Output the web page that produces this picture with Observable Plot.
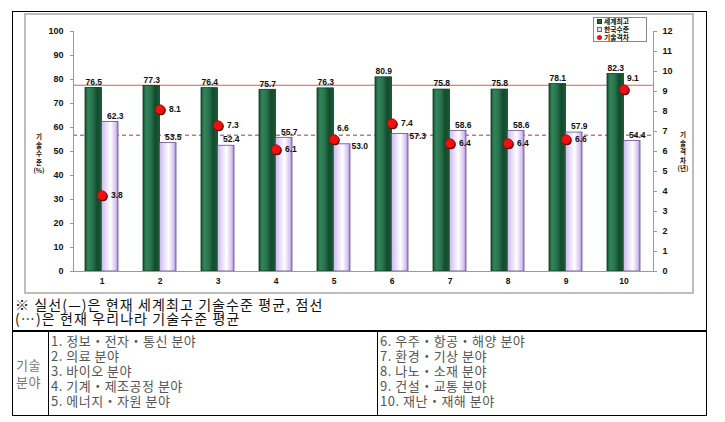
<!DOCTYPE html>
<html>
<head>
<meta charset="utf-8">
<script src="https://cdn.jsdelivr.net/npm/d3@7"></script>
<script src="https://cdn.jsdelivr.net/npm/@observablehq/plot@0.6"></script>
<style>
  body { margin: 0; background: #fff; }
  #page { position: relative; width: 725px; height: 422px; background: #fff; overflow: hidden;
          font-family: "Noto Sans CJK KR", "Noto Sans", sans-serif; }
  .abs { position: absolute; }
  #outer { left: 12px; top: 11px; width: 695px; height: 405px; border: 1px solid #000; box-sizing: border-box; }
  #chartbox { left: 24px; top: 13px; width: 670px; height: 281px; border: 2px solid #bdbdbd; box-sizing: border-box; }
  #chart { left: 25px; top: 14px; }
  .vlabel { width: 22px; color: #111; font-family: "Noto Sans CJK KR", sans-serif; font-weight: bold; }
  .vlabel div { height: 8.6px; font-size: 6.5px; line-height: 8.6px; text-align: center; }
  #legend { left: 593px; top: 17px; width: 54px; height: 25px; border: 1px solid #888; background: #fff;
            box-sizing: border-box; font-size: 6.8px; font-weight: bold; padding: 0 0 0 3px; color: #111; }
  #legend .row { display: flex; align-items: center; height: 7.8px; line-height: 7.8px; }
  #legend .sw { display: inline-block; margin-right: 2px; }
  #caption { left: 15px; top: 297px; color: #111; }
  #caption div { font-size: 14px; height: 14px; line-height: 14px; letter-spacing: 1.1px; white-space: nowrap; }
  #table { left: 12px; top: 330px; width: 695px; height: 86px; border: 1px solid #000; border-top: 2px solid #000;
           box-sizing: border-box; }
  .cell { position: absolute; font-size: 13px; line-height: 15px; letter-spacing: 0.5px; color: #555; white-space: nowrap; }
</style>
</head>
<body>
<div id="page">
  <div id="outer" class="abs"></div>
  <div id="chartbox" class="abs"></div>
  <div id="chart" class="abs"></div>
  <div id="vl-left" class="abs vlabel" style="left:28px; top:132px;"></div>
  <div id="vl-right" class="abs vlabel" style="left:672px; top:130px;"></div>
  <div id="legend" class="abs"></div>
  <div id="caption" class="abs"></div>
  <div id="table" class="abs"></div>
</div>
<script>
// ---- data ----
const categories = ["1", "2", "3", "4", "5", "6", "7", "8", "9", "10"];
const worldBest  = [76.5, 77.3, 76.4, 75.7, 76.3, 80.9, 75.8, 75.8, 78.1, 82.3];
const koreaLevel = [62.3, 53.5, 52.4, 55.7, 53.0, 57.3, 58.6, 58.6, 57.9, 54.4];
const techGap    = [3.8, 8.1, 7.3, 6.1, 6.6, 7.4, 6.4, 6.4, 6.6, 9.1];
const worldAvg = 77.6;
const koreaAvg = 56.8;
const leftTicks  = [0, 10, 20, 30, 40, 50, 60, 70, 80, 90, 100];
const rightTicks = [0, 1, 2, 3, 4, 5, 6, 7, 8, 9, 10, 11, 12];
const seriesNames = ["세계최고", "한국수준", "기술격차"];
const leftAxisTitle  = ["기", "술", "수", "준", "(%)"];
const rightAxisTitle = ["기", "술", "격", "차", "(년)"];
const captionLines = ["※ 실선(—)은 현재 세계최고 기술수준 평균, 점선", "(…)은 현재 우리나라 기술수준 평균"];
const fieldHeader = ["기술", "분야"];
const fieldsLeft  = ["1. 정보・전자・통신 분야", "2. 의료 분야", "3. 바이오 분야", "4. 기계・제조공정 분야", "5. 에너지・자원 분야"];
const fieldsRight = ["6. 우주・항공・해양 분야", "7. 환경・기상 분야", "8. 나노・소재 분야", "9. 건설・교통 분야", "10. 재난・재해 분야"];

// label placement (style only): which labels sit beside / above
const koreaLabelBeside = new Set(["5", "6"]);
const gapLabelAbove = new Set(["5", "10"]);

const leftMax = 100, rightMax = 12;
const toLeft = v => v * leftMax / rightMax;

const rows = categories.map((c, i) => ({cat: c, world: worldBest[i], korea: koreaLevel[i], gap: techGap[i], gapY: toLeft(techGap[i])}));

const W = 668, H = 279;
const mL = 48, mR = 40;
const step = (W - mL - mR) / categories.length;
const padInner = 0.43;
const half = step * (1 - padInner) / 2;

const numFont = "Liberation Sans, Arial, sans-serif";
const lbl = {fontSize: 8.5, fontWeight: "bold", fill: "#111"};

const chart = Plot.plot({
  width: W, height: H,
  marginLeft: mL, marginRight: mR, marginTop: 17, marginBottom: 22,
  style: {background: "transparent", fontFamily: numFont, color: "#111"},
  x: {domain: categories, type: "band", paddingInner: padInner, paddingOuter: padInner / 2, label: null},
  y: {domain: [0, leftMax], label: null},
  marks: [
    Plot.ruleY([worldAvg], {stroke: "#e05a5a", strokeWidth: 1.2}),
    Plot.ruleY([koreaAvg], {stroke: "#b83030", strokeWidth: 1, strokeDasharray: "4,3"}),
    Plot.barY(rows, {x: "cat", y: "world", insetRight: half, fill: "url(#gGreen)", stroke: "#0d3a20", strokeWidth: 0.8}),
    Plot.barY(rows, {x: "cat", y: "korea", insetLeft: half, fill: "url(#gPurple)", stroke: "#6a4a90", strokeWidth: 0.8}),
    Plot.frame({anchor: "left", stroke: "#9a9a9a"}),
    Plot.frame({anchor: "right", stroke: "#9a9a9a"}),
    Plot.ruleY([0], {stroke: "#9a9a9a"}),
    Plot.axisY({anchor: "left", ticks: leftTicks, tickSize: 3, tickPadding: 7, fontSize: 9, fontWeight: "bold", stroke: "#999"}),
    Plot.axisY({anchor: "right", ticks: rightTicks.map(toLeft), tickFormat: d => String(Math.round(d * rightMax / leftMax)),
                tickSize: 3, tickPadding: 6, fontSize: 9, fontWeight: "bold", stroke: "#999"}),
    Plot.axisX({tickSize: 0, tickPadding: 6, fontSize: 8.5, fontWeight: "bold"}),
    Plot.text(rows, {x: "cat", y: "world", text: d => d.world.toFixed(1), dx: -half / 2, dy: -6, ...lbl}),
    Plot.text(rows.filter(d => !koreaLabelBeside.has(d.cat)),
              {x: "cat", y: "korea", text: d => d.korea.toFixed(1), dx: half / 2 + 5, dy: -6, ...lbl}),
    Plot.text(rows.filter(d => koreaLabelBeside.has(d.cat)),
              {x: "cat", y: "korea", text: d => d.korea.toFixed(1), dx: half + 1, dy: 2, textAnchor: "start", ...lbl}),
    Plot.dot(rows, {x: "cat", y: "gapY", r: 4.8, fill: "#400", dx: 1, dy: 1}),
    Plot.dot(rows, {x: "cat", y: "gapY", r: 4.8, fill: "#f01010", stroke: "#a00000", strokeWidth: 0.6}),
    Plot.text(rows.filter(d => !gapLabelAbove.has(d.cat)),
              {x: "cat", y: "gapY", text: d => d.gap.toFixed(1), dx: 9, textAnchor: "start", ...lbl}),
    Plot.text(rows.filter(d => gapLabelAbove.has(d.cat)),
              {x: "cat", y: "gapY", text: d => d.gap.toFixed(1), dx: 3, dy: -11, textAnchor: "start", ...lbl})
  ]
});

// gradients for the cylinder-like bars
const svg = d3.select(chart);
const defs = svg.insert("defs", ":first-child");
function grad(id, stops) {
  const g = defs.append("linearGradient").attr("id", id).attr("x1", 0).attr("x2", 1).attr("y1", 0).attr("y2", 0);
  stops.forEach(([o, c]) => g.append("stop").attr("offset", o).attr("stop-color", c));
}
grad("gGreen", [[0, "#174d30"], [0.18, "#32855a"], [0.45, "#2a7550"], [0.75, "#124a2c"], [1, "#1c5a3a"]]);
grad("gPurple", [[0, "#cdb8ec"], [0.3, "#ebe0fb"], [0.55, "#ffffff"], [0.85, "#d6c4f2"], [1, "#a888d0"]]);

document.getElementById("chart").appendChild(chart);

// vertical axis titles
leftAxisTitle.forEach(t => d3.select("#vl-left").append("div").text(t));
rightAxisTitle.forEach(t => d3.select("#vl-right").append("div").text(t));

// legend
const legend = d3.select("#legend");
const swatches = [
  {bg: "#1f6a40", border: "1px solid #0d3a20", radius: "0", size: "3px"},
  {bg: "#e6dcfa", border: "1px solid #7a5aa0", radius: "0", size: "3px"},
  {bg: "#f01010", border: "none", radius: "50%", size: "5px"}
];
seriesNames.forEach((name, i) => {
  const row = legend.append("div").attr("class", "row");
  row.append("span").attr("class", "sw")
     .style("background", swatches[i].bg).style("border", swatches[i].border).style("border-radius", swatches[i].radius)
     .style("width", swatches[i].size).style("height", swatches[i].size);
  row.append("span").text(name);
});

// caption
captionLines.forEach(t => d3.select("#caption").append("div").text(t));

// table
const table = d3.select("#table");
table.append("div").attr("class", "abs").style("left", "35px").style("top", "0").style("width", "1px").style("height", "100%").style("background", "#000");
table.append("div").attr("class", "abs").style("left", "364px").style("top", "0").style("width", "1px").style("height", "100%").style("background", "#000");
table.append("div").attr("class", "cell").style("left", "3px").style("top", "24px").style("line-height", "17px").style("color", "#777")
     .html(fieldHeader.join("<br>"));
fieldsLeft.forEach((t, i) => table.append("div").attr("class", "cell").style("left", "38px").style("top", (1 + i * 15) + "px").text(t));
fieldsRight.forEach((t, i) => table.append("div").attr("class", "cell").style("left", "367px").style("top", (1 + i * 15) + "px").text(t));
</script>
</body>
</html>
